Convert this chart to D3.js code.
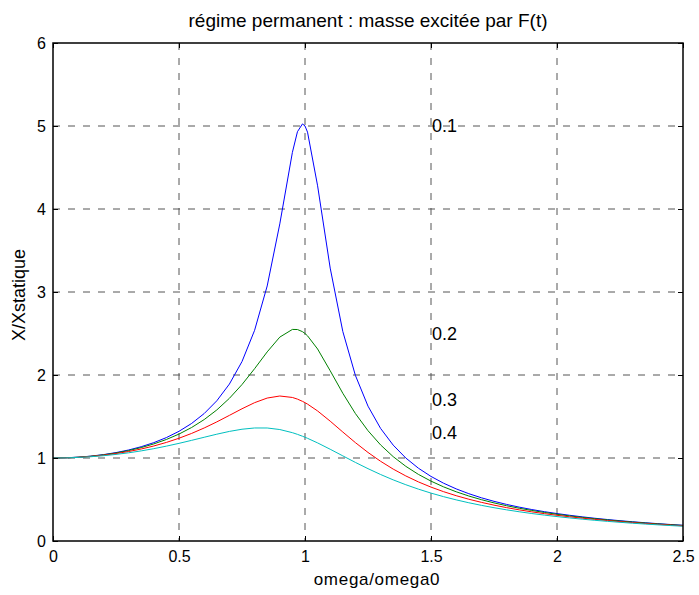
<!DOCTYPE html>
<html>
<head>
<meta charset="utf-8">
<script src="https://cdn.jsdelivr.net/npm/d3@7"></script>
<style>
  body { margin: 0; background: #fff; }
  svg text { font-family: "Liberation Sans", Arial, sans-serif; fill: #000; }
</style>
</head>
<body>
<svg id="chart" width="699" height="595"></svg>
<script>
// frequency ratio omega/omega0
const ratio = [0, 0.05, 0.1, 0.15, 0.2, 0.25, 0.3, 0.35, 0.4, 0.45, 0.5, 0.55, 0.6, 0.65, 0.7, 0.75, 0.8, 0.85, 0.9, 0.95, 0.97, 0.99, 1.0, 1.01, 1.05, 1.1, 1.15, 1.2, 1.25, 1.3, 1.35, 1.4, 1.45, 1.5, 1.55, 1.6, 1.65, 1.7, 1.75, 1.8, 1.85, 1.9, 1.95, 2.0, 2.05, 2.1, 2.15, 2.2, 2.25, 2.3, 2.35, 2.4, 2.45, 2.5];

const amp01 = [1, 1.0025, 1.0099, 1.0225, 1.0408, 1.0652, 1.0965, 1.136, 1.1851, 1.246, 1.3216, 1.4162, 1.5357, 1.6893, 1.8908, 2.1621, 2.5384, 3.0728, 3.8208, 4.6826, 4.931, 5.0251, 5.0, 4.926, 4.2794, 3.288, 2.5245, 1.9952, 1.6245, 1.3562, 1.1552, 1.0, 0.8772, 0.7779, 0.6962, 0.6279, 0.5702, 0.5207, 0.478, 0.4408, 0.4081, 0.3791, 0.3534, 0.3304, 0.3097, 0.2911, 0.2741, 0.2587, 0.2447, 0.2318, 0.2199, 0.209, 0.1989, 0.1896];
const amp02 = [1, 1.0023, 1.0093, 1.0211, 1.0381, 1.0606, 1.0895, 1.1254, 1.1695, 1.2232, 1.2883, 1.3673, 1.463, 1.579, 1.7188, 1.8851, 2.0761, 2.2786, 2.4566, 2.549, 2.5479, 2.5221, 2.5, 2.4722, 2.3131, 2.0511, 1.78, 1.5357, 1.3287, 1.1574, 1.0163, 0.8998, 0.8027, 0.7212, 0.6521, 0.5931, 0.5421, 0.4979, 0.4591, 0.425, 0.3948, 0.3679, 0.3438, 0.3221, 0.3025, 0.2847, 0.2686, 0.2538, 0.2403, 0.2279, 0.2165, 0.2059, 0.1962, 0.1871];
const amp03 = [1, 1.0021, 1.0082, 1.0187, 1.0336, 1.0533, 1.078, 1.1083, 1.1447, 1.1877, 1.238, 1.296, 1.3618, 1.435, 1.5136, 1.5933, 1.6667, 1.7223, 1.7469, 1.7293, 1.7094, 1.6826, 1.6667, 1.6493, 1.5667, 1.4438, 1.3129, 1.1851, 1.0667, 0.9603, 0.8663, 0.7839, 0.712, 0.6492, 0.5942, 0.5459, 0.5033, 0.4656, 0.4321, 0.4021, 0.3753, 0.3511, 0.3293, 0.3095, 0.2915, 0.2751, 0.2601, 0.2463, 0.2336, 0.2219, 0.2111, 0.2011, 0.1918, 0.1831];
const amp04 = [1, 1.0017, 1.0068, 1.0154, 1.0275, 1.0432, 1.0626, 1.0857, 1.1125, 1.1429, 1.1765, 1.2126, 1.25, 1.2868, 1.3203, 1.3467, 1.3618, 1.3616, 1.3429, 1.3051, 1.2849, 1.2622, 1.25, 1.2372, 1.1817, 1.1053, 1.0258, 0.9469, 0.8716, 0.8012, 0.7366, 0.6779, 0.6249, 0.5771, 0.5342, 0.4956, 0.4608, 0.4295, 0.4012, 0.3755, 0.3523, 0.3311, 0.3118, 0.2941, 0.2779, 0.2631, 0.2494, 0.2367, 0.2251, 0.2142, 0.2042, 0.1948, 0.1861, 0.178];

const dampings = ["0.1", "0.2", "0.3", "0.4"];
const colors = ["#0000ff", "#008000", "#ff0000", "#00bfbf"];
// label anchor points (text placed at omega=1.5)
const labelX = [1.5, 1.5, 1.5, 1.5];
const labelY = [5, 2.5, 1.7, 1.3];

const xTicks = [0, 0.5, 1, 1.5, 2, 2.5];
const yTicks = [0, 1, 2, 3, 4, 5, 6];

const series = [amp01, amp02, amp03, amp04];

const svg = d3.select("#chart");
const plotL = 53, plotR = 683, plotT = 43, plotB = 541;

const x = d3.scaleLinear().domain([0, 2.5]).range([plotL, plotR]);
const y = d3.scaleLinear().domain([0, 6]).range([plotB, plotT]);

// grid
const grid = svg.append("g");
grid.selectAll("line.vx")
    .data(xTicks.slice(1, -1))
    .enter().append("line")
    .attr("x1", d => x(d)).attr("x2", d => x(d))
    .attr("y1", plotT).attr("y2", plotB)
    .attr("stroke", "#555").attr("stroke-dasharray", "7,8");
grid.selectAll("line.hy")
    .data(yTicks.slice(1, -1))
    .enter().append("line")
    .attr("x1", plotL).attr("x2", plotR)
    .attr("y1", d => y(d)).attr("y2", d => y(d))
    .attr("stroke", "#555").attr("stroke-dasharray", "7,8");

// curves
const line = d3.line()
    .x((d, i) => x(ratio[i]))
    .y(d => y(d));

series.forEach((s, k) => {
    svg.append("path")
       .attr("d", line(s))
       .attr("fill", "none")
       .attr("stroke", colors[k])
       .attr("stroke-width", 1);
});

// damping labels
dampings.forEach((t, k) => {
    svg.append("text")
       .attr("x", x(labelX[k]) + 1)
       .attr("y", y(labelY[k]))
       .attr("dy", "0.35em")
       .style("font-size", "18px")
       .text(t);
});

// axes
const xAxis = d3.axisBottom(x).tickValues(xTicks).tickSize(-5).tickPadding(10)
    .tickFormat(d => d3.format("")(d));
const yAxis = d3.axisLeft(y).tickValues(yTicks).tickSize(-5).tickPadding(7)
    .tickFormat(d3.format("d"));

const gx = svg.append("g").attr("transform", `translate(0,${plotB})`).call(xAxis);
const gy = svg.append("g").attr("transform", `translate(${plotL},0)`).call(yAxis);
[gx, gy].forEach(g => {
    g.select(".domain").remove();
    g.selectAll(".tick line").attr("stroke", "#000");
    g.selectAll("text").style("font-size", "16px").attr("fill", "#000");
});

// top and right ticks
svg.append("g").attr("transform", `translate(0,${plotT})`)
   .call(d3.axisTop(x).tickValues(xTicks).tickSize(-5).tickFormat(""))
   .call(g => g.select(".domain").remove());
svg.append("g").attr("transform", `translate(${plotR},0)`)
   .call(d3.axisRight(y).tickValues(yTicks).tickSize(-5).tickFormat(""))
   .call(g => g.select(".domain").remove());

// box
svg.append("rect")
   .attr("x", plotL).attr("y", plotT)
   .attr("width", plotR - plotL).attr("height", plotB - plotT)
   .attr("fill", "none").attr("stroke", "#000").attr("stroke-width", 1.5);

// title and labels
svg.append("text")
   .attr("x", (plotL + plotR) / 2).attr("y", 27)
   .attr("text-anchor", "middle")
   .style("font-size", "19px")
   .text("régime permanent : masse excitée par F(t)");

svg.append("text")
   .attr("x", (plotL + plotR) / 2 + 9).attr("y", 585)
   .attr("text-anchor", "middle")
   .style("font-size", "17px")
   .style("letter-spacing", "0.7px")
   .text("omega/omega0");

svg.append("text")
   .attr("transform", `translate(25,${(plotT + plotB) / 2 + 3}) rotate(-90)`)
   .attr("text-anchor", "middle")
   .style("font-size", "18px")
   .text("X/Xstatique");
</script>
</body>
</html>
